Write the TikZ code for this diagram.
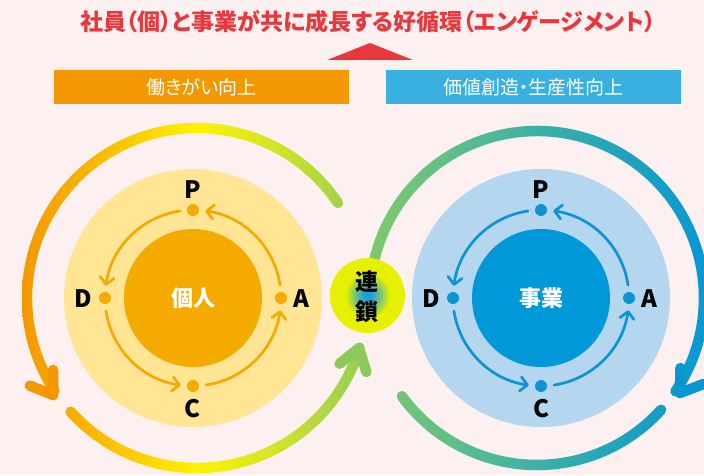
\documentclass[tikz,border=0pt]{standalone}
\usepackage{fontspec}
\setmainfont{Noto Sans CJK JP}
\newfontfamily\jp{Noto Sans CJK JP}
\newfontfamily\jpp[RawFeature=+palt]{Noto Sans CJK JP}
\usetikzlibrary{arrows.meta}
\definecolor{bg}{HTML}{FCF0F0}
\definecolor{titlered}{HTML}{E8383D}
\definecolor{barorange}{HTML}{F39800}
\definecolor{barblue}{HTML}{38B0E0}
\definecolor{ylight}{HTML}{FFE594}
\definecolor{ydark}{HTML}{F5AA00}
\definecolor{blight}{HTML}{B4D6EF}
\definecolor{bdark}{HTML}{0098D8}
\definecolor{bpdca}{HTML}{0C94D5}
\definecolor{lA}{HTML}{F39800}
\definecolor{lB}{HTML}{F9C000}
\definecolor{lC}{HTML}{FFF200}
\definecolor{lD}{HTML}{CDE22C}
\definecolor{lE}{HTML}{8CCB5A}
\definecolor{rA}{HTML}{80CA6A}
\definecolor{rB}{HTML}{5EBF88}
\definecolor{rC}{HTML}{3DB1A6}
\definecolor{rD}{HTML}{20A3BE}
\definecolor{rE}{HTML}{0897D2}
\definecolor{renB}{HTML}{1AA0DC}
\definecolor{renG}{HTML}{7CC870}
\definecolor{renY}{HTML}{E6F000}
\pgfdeclarehorizontalshading{lring}{100bp}{color(0bp)=(lA); color(25bp)=(lA); color(37.5bp)=(lB); color(50bp)=(lC); color(62.5bp)=(lD); color(75bp)=(lE); color(100bp)=(lE)}
\pgfdeclarehorizontalshading{rring}{100bp}{color(0bp)=(rA); color(25bp)=(rA); color(37.5bp)=(rB); color(50bp)=(rC); color(62.5bp)=(rD); color(75bp)=(rE); color(100bp)=(rE)}
\pgfdeclareradialshading{renshade}{\pgfpoint{0bp}{0bp}}{color(0bp)=(renB); color(2.5bp)=(renB); color(9bp)=(renG); color(15bp)=(renY); color(25bp)=(renY); color(50bp)=(renY)}
\tikzset{
  band/.style n args={5}{insert path={(#1,#2) ++({#4}:{#3+5.25}) arc[start angle={#4}, end angle={#5}, radius={#3+5.25}] arc[start angle={#5}, end angle={#5+180}, radius=5.25] arc[start angle={#5}, end angle={#4}, radius={#3-5.25}] arc[start angle={#4+180}, end angle={#4+360}, radius=5.25] -- cycle}},
  dot/.style={circle, fill=#1, minimum size=12pt, inner sep=0pt},
  letter/.style={font=\jp\bfseries\fontsize{24}{24}\selectfont, text=black, inner sep=0pt},
  pdca/.style={draw=#1, line width=2.7pt, line cap=round, -{Straight Barb[length=7pt,width=14pt,round]}},
  bigtip/.style={draw=#1, line width=10.5pt, line cap=round, line join=round},
  bartext/.style={font=\jpp\fontsize{19}{19}\selectfont, text=white, inner sep=0pt},
  centertext/.style={font=\jp\bfseries\fontsize{22}{22}\selectfont, text=white, inner sep=0pt},
  rentext/.style={font=\jp\bfseries\fontsize{23}{23}\selectfont, text=black, inner sep=0pt}
}
\begin{document}
\begin{tikzpicture}[x=1pt,y=1pt]
\useasboundingbox (0,0) rectangle (704,475);
\clip (0,0) rectangle (704,475);
\fill[bg] (0,0) rectangle (704,475);

% header
\node[font=\jpp\bfseries\fontsize{23}{23}\selectfont, text=titlered, inner sep=0pt] (title) at (368,453) {社員（個）と事業が共に成長する好循環（エンゲージメント）};
\fill[titlered] (327,415) -- (413,415) -- (370,432) -- cycle;
\node[fill=barorange, minimum width=295pt, minimum height=34pt, inner sep=0pt] (barL) at (201.5,388) {};
\node[bartext] (barLt) at (barL) {働きがい向上};
\node[fill=barblue, minimum width=295pt, minimum height=34pt, inner sep=0pt] (barR) at (533.5,388) {};
\node[bartext] (barRt) at (barR) {価値創造・生産性向上};

% left ring
\begin{scope}
\clip[band={197}{177}{170}{34}{213}, band={197}{177}{170}{222}{343}];
\shade[shading=lring] (22,0) rectangle (372,475);
\end{scope}
\draw[bigtip=lA] (53,80) ++(158:25) -- (53,80) -- ++(90:25);
\draw[bigtip=lE] (359,127) ++(219:25) -- (359,127) -- ++(287:25);

% right ring
\begin{scope}
\clip[band={537}{177}{167}{-34}{188}, band={537}{177}{167}{216}{318}];
\shade[shading=rring] (365,0) rectangle (709,475);
\end{scope}
\draw[bigtip=rE] (680,82) ++(89:25) -- (680,82) -- ++(21:25);

% left circle
\fill[ylight] (193,177) circle[radius=129];
\fill[ydark] (193,177) circle[radius=69];
\node[centertext] (kojin) at (193,177) {個人};
\foreach \a in {0,90,180,270}{
  \draw[pdca=ydark] (193,177) ++({\a+8.5}:88) arc[start angle={\a+8.5}, end angle={\a+82}, radius=88];
}
\node[dot=ydark] (LP) at (193,265) {};
\node[dot=ydark] (LD) at (105,177) {};
\node[dot=ydark] (LA) at (281,177) {};
\node[dot=ydark] (LC) at (193,89) {};
\node[letter] (LPt) at (193,285) {P};
\node[letter] (LDt) at (83,176) {D};
\node[letter] (LAt) at (301,176) {A};
\node[letter] (LCt) at (193,66) {C};

% right circle
\fill[blight] (541,177) circle[radius=129];
\fill[bdark] (541,177) circle[radius=69];
\node[centertext] (jigyo) at (541,177) {事業};
\foreach \a in {0,90,180,270}{
  \draw[pdca=bpdca] (541,177) ++({\a+8.5}:88) arc[start angle={\a+8.5}, end angle={\a+82}, radius=88];
}
\node[dot=bpdca] (RP) at (541,265) {};
\node[dot=bpdca] (RD) at (453,177) {};
\node[dot=bpdca] (RA) at (629,177) {};
\node[dot=bpdca] (RC) at (541,89) {};
\node[letter] (RPt) at (541,285) {P};
\node[letter] (RDt) at (431,176) {D};
\node[letter] (RAt) at (649,176) {A};
\node[letter] (RCt) at (541,66) {C};

% link circle
\node[circle, minimum size=75pt, inner sep=0pt, shading=renshade] (ren) at (367.5,179.5) {};
\node[rentext] (ren1) at (367,193.5) {連};
\node[rentext] (ren2) at (367,163.5) {鎖};
\end{tikzpicture}
\end{document}
